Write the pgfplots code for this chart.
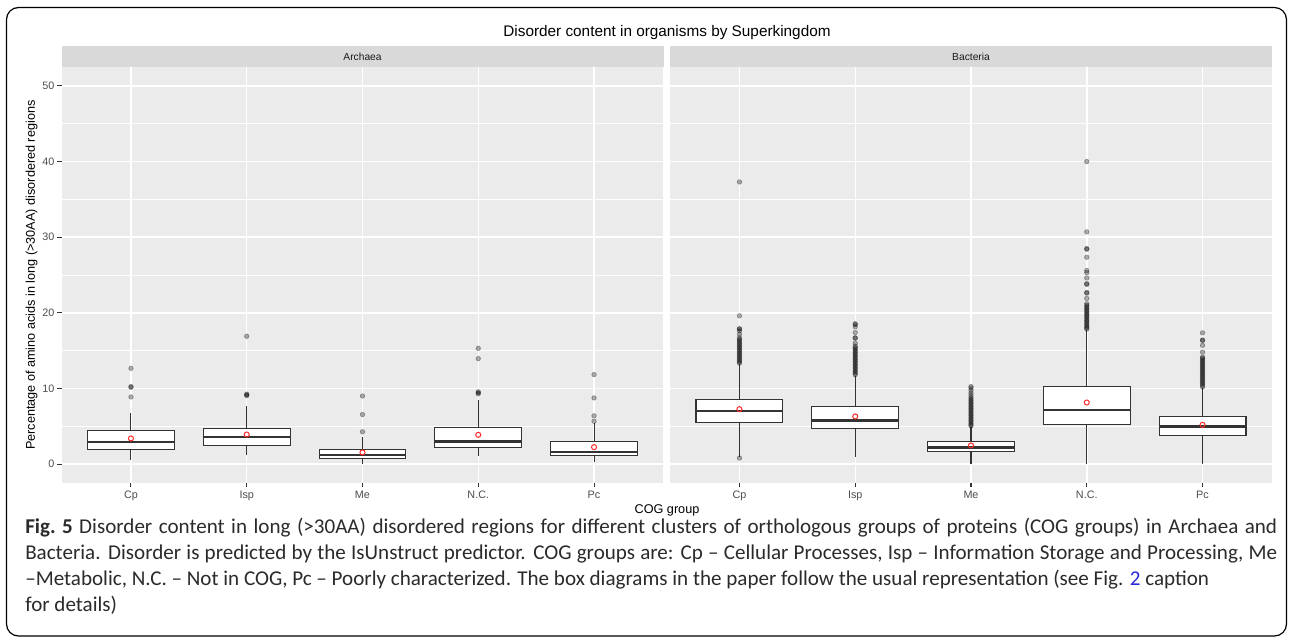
\documentclass[border=0pt]{standalone}
\usepackage{pgfplots}
\pgfplotsset{compat=1.18}
\usepgfplotslibrary{statistics}
\usepackage{fontspec}
\setmainfont{Liberation Sans}
\newfontfamily\capfont{Carlito}
\definecolor{panelbg}{HTML}{EBEBEB}
\definecolor{stripbg}{HTML}{D9D9D9}
\definecolor{boxc}{HTML}{333333}
\definecolor{ticklab}{HTML}{4D4D4D}
\definecolor{captxt}{HTML}{2B2B2B}
\definecolor{linkblue}{HTML}{2A2AD8}
\definecolor{meanred}{HTML}{FF2A2A}
\pgfplotsset{
  facet/.style={
    scale only axis, width=451.5pt, height=312pt,
    anchor=north west,
    xmin=0.4, xmax=5.6, ymin=-2.5, ymax=52.5,
    axis background/.style={fill=panelbg},
    axis line style={draw=none},
    xtick={1,2,3,4,5}, xticklabels={Cp,Isp,Me,N.C.,Pc},
    ytick={0,10,20,30,40,50}, minor ytick={5,15,25,35,45},
    grid=both,
    major grid style={white, line width=1.1pt},
    minor grid style={white, line width=0.55pt},
    tick align=outside, xtick pos=bottom, ytick pos=left,
    major tick length=3.3pt, minor tick length=0pt,
    major tick style={boxc, line width=0.8pt},
    minor tick style={draw=none},
    /pgf/number format/assume math mode=true,
    tick label style={font=\fontsize{8.1}{9}\selectfont, text=ticklab, inner sep=0pt},
    xticklabel style={anchor=north, yshift=-2.2pt},
    yticklabel style={anchor=east, xshift=-1.8pt},
    boxplot/draw direction=y,
    boxplot/every box/.style={fill=white, draw=boxc, line width=0.85pt},
    boxplot/every whisker/.style={draw=boxc, line width=0.8pt},
    boxplot/every median/.style={draw=boxc, line width=1.8pt},
    boxplot/box extend=0.75,
    boxplot/whisker extend=0,
  },
  outl/.style={only marks, mark=*, mark size=1.75pt, mark options={draw=none, fill=black, opacity=0.32}},
  meanm/.style={only marks, mark=o, mark size=1.9pt, mark options={draw=meanred, line width=0.75pt}},
}
\begin{document}
\begin{tikzpicture}
\useasboundingbox (0,0) rectangle (967.5pt,-480.75pt);
\fill[white] (0,0) rectangle (967.5pt,-480.75pt);
\draw[black, line width=0.9pt, rounded corners=9pt] (4.875pt,-5.625pt) rectangle (964.875pt,-477pt);

% strips
\fill[stripbg] (46.125pt,-34.5pt) rectangle (497.625pt,-50.25pt);
\fill[stripbg] (502.5pt,-34.5pt) rectangle (954pt,-50.25pt);
\node[font=\fontsize{7.7}{9}\selectfont, text={rgb,255:red,26;green,26;blue,26}] at (271.9pt,-42.4pt) {Archaea};
\node[font=\fontsize{7.7}{9}\selectfont, text={rgb,255:red,26;green,26;blue,26}] at (728.3pt,-42.4pt) {Bacteria};

% Archaea
\begin{axis}[facet, at={(46.125pt,-50.25pt)}]
\addplot[boxplot prepared={draw position=1, lower whisker=0.57, lower quartile=1.93, median=2.95, upper quartile=4.40, upper whisker=6.70}] coordinates {};
\addplot[boxplot prepared={draw position=2, lower whisker=1.23, lower quartile=2.50, median=3.56, upper quartile=4.66, upper whisker=7.65}] coordinates {};
\addplot[boxplot prepared={draw position=3, lower whisker=0.00, lower quartile=0.75, median=1.19, upper quartile=1.98, upper whisker=3.60}] coordinates {};
\addplot[boxplot prepared={draw position=4, lower whisker=1.10, lower quartile=2.16, median=2.99, upper quartile=4.84, upper whisker=8.44}] coordinates {};
\addplot[boxplot prepared={draw position=5, lower whisker=0.22, lower quartile=1.19, median=1.63, upper quartile=2.94, upper whisker=5.40}] coordinates {};
\addplot[outl] coordinates {
(1,12.66) (1,10.25) (1,10.15) (1,8.88)
(2,16.9) (2,9.25) (2,9.15) (2,9.05)
(3,9.0) (3,6.55) (3,4.27)
(4,15.3) (4,13.94) (4,9.55) (4,9.42) (4,9.3)
(5,11.83) (5,8.75) (5,6.38) (5,5.67)
};
\addplot[meanm] coordinates {(1,3.39) (2,3.91) (3,1.54) (4,3.87) (5,2.24)};
\end{axis}

% Bacteria
\begin{axis}[facet, at={(502.5pt,-50.25pt)}, yticklabels={}, ytick style={draw=none}]
\addplot[boxplot prepared={draw position=1, lower whisker=1.00, lower quartile=5.54, median=7.03, upper quartile=8.58, upper whisker=13.2}] coordinates {};
\addplot[boxplot prepared={draw position=2, lower whisker=0.88, lower quartile=4.70, median=5.76, upper quartile=7.56, upper whisker=11.6}] coordinates {};
\addplot[boxplot prepared={draw position=3, lower whisker=0.00, lower quartile=1.71, median=2.20, upper quartile=3.03, upper whisker=4.90}] coordinates {};
\addplot[boxplot prepared={draw position=4, lower whisker=0.00, lower quartile=5.19, median=7.12, upper quartile=10.2, upper whisker=17.7}] coordinates {};
\addplot[boxplot prepared={draw position=5, lower whisker=0.00, lower quartile=3.74, median=4.97, upper quartile=6.29, upper whisker=10.0}] coordinates {};
\addplot[outl] coordinates {
(1,37.3) (1,19.6) (1,17.9) (1,17.85) (1,17.6) (1,17.15) (1,16.7) (1,16.5) (1,16.3) (1,16.1) (1,15.9) (1,15.7) (1,15.5) (1,15.3) (1,15.1) (1,14.9) (1,14.7) (1,14.5) (1,14.3) (1,14.1) (1,13.9) (1,13.7) (1,13.5) (1,13.35) (1,0.79)
(2,18.55) (2,18.45) (2,18.15) (2,17.4) (2,16.7) (2,16.65) (2,16.0) (2,15.6) (2,15.4) (2,15.2) (2,15.0) (2,14.8) (2,14.6) (2,14.4) (2,14.2) (2,14.0) (2,13.8) (2,13.6) (2,13.4) (2,13.2) (2,13.0) (2,12.8) (2,12.6) (2,12.4) (2,12.2) (2,12.0) (2,11.8)
(3,10.25) (3,10.05) (3,9.75) (3,9.4) (3,9.1) (3,8.8) (3,8.6) (3,8.4) (3,8.2) (3,8.0) (3,7.8) (3,7.6) (3,7.4) (3,7.2) (3,7.0) (3,6.8) (3,6.6) (3,6.4) (3,6.2) (3,6.0) (3,5.8) (3,5.6) (3,5.4) (3,5.2) (3,5.05)
(4,40.0) (4,30.7) (4,28.5) (4,28.4) (4,27.35) (4,25.6) (4,25.3) (4,24.6) (4,23.85) (4,23.75) (4,22.7) (4,22.6) (4,21.9) (4,21.2) (4,21.0) (4,20.8) (4,20.6) (4,20.4) (4,20.2) (4,20.0) (4,19.8) (4,19.6) (4,19.4) (4,19.2) (4,19.0) (4,18.8) (4,18.6) (4,18.4) (4,18.2) (4,18.0) (4,17.85)
(5,17.35) (5,16.4) (5,16.35) (5,15.7) (5,14.8) (5,14.15) (5,14.0) (5,13.8) (5,13.6) (5,13.4) (5,13.2) (5,13.0) (5,12.8) (5,12.6) (5,12.4) (5,12.2) (5,12.0) (5,11.8) (5,11.6) (5,11.4) (5,11.2) (5,11.0) (5,10.8) (5,10.6) (5,10.4) (5,10.2)
};
\addplot[meanm] coordinates {(1,7.26) (2,6.30) (3,2.46) (4,8.14) (5,5.19)};
\end{axis}

% titles
\node[anchor=base, font=\fontsize{11.5}{13}\selectfont] at (500.25pt,-27.5pt) {Disorder content in organisms by Superkingdom};
\node[anchor=base, font=\fontsize{9.5}{11}\selectfont] at (500.25pt,-385pt) {COG group};
\node[anchor=base, rotate=90, font=\fontsize{9.5}{11}\selectfont] at (26.25pt,-206.4pt) {Percentage of amino acids in long (>30AA) disordered regions};

% caption
\begin{scope}[every node/.style={anchor=base west, inner sep=0pt, text=captxt, font=\capfont\fontsize{15.8}{19}\selectfont}]
\node at (18.75pt,-400.5pt) {\makebox[939pt][s]{\textbf{\mbox{Fig. 5}} Disorder content in long (>30AA) disordered regions for different clusters of orthologous groups of proteins (COG groups) in Archaea and}};
\node at (18.75pt,-420pt) {\makebox[939pt][s]{Bacteria. Disorder is predicted by the IsUnstruct predictor. COG groups are: Cp – Cellular Processes, Isp – Information Storage and Processing, Me}};
\node at (18.75pt,-439.2pt) {–Metabolic, N.C. – Not in COG, Pc – Poorly characterized. The box diagrams in the paper follow the usual representation (see Fig. {\color{linkblue}2} caption};
\node at (18.75pt,-458.5pt) {for details)};
\end{scope}
\end{tikzpicture}
\end{document}
